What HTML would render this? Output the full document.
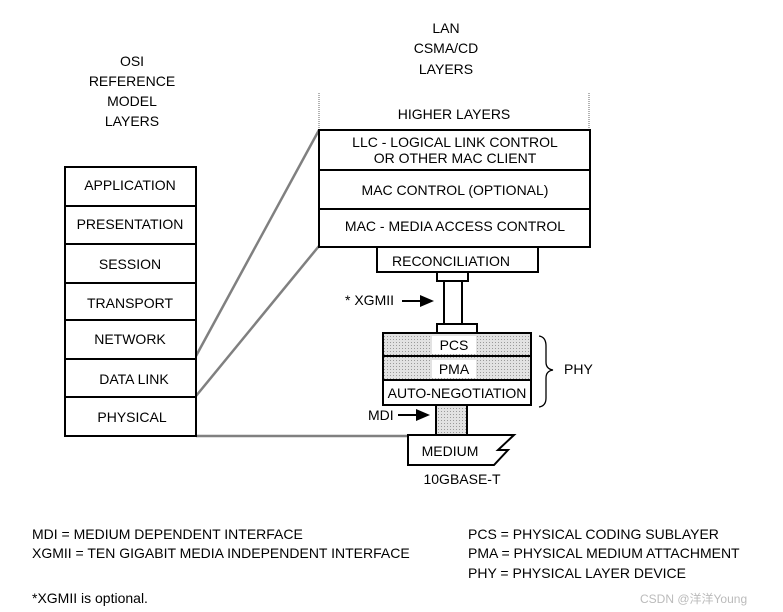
<!DOCTYPE html>
<html><head><meta charset="utf-8"><style>
html,body{margin:0;padding:0;background:#fff}
svg{display:block}
text{font-family:"Liberation Sans",Arial,sans-serif;font-size:14px;fill:#000}
</style></head><body>
<svg width="783" height="612" viewBox="0 0 783 612" xmlns="http://www.w3.org/2000/svg">
<defs>
<pattern id="h" width="3" height="3" patternUnits="userSpaceOnUse">
<rect width="3" height="3" fill="#e2e2e2"/><rect width="1" height="1" fill="#9a9a9a"/>
</pattern>
</defs>
<!-- headers -->
<g text-anchor="middle">
<text x="132" y="66">OSI</text>
<text x="132" y="86">REFERENCE</text>
<text x="132" y="106">MODEL</text>
<text x="132" y="126">LAYERS</text>
<text x="446" y="33">LAN</text>
<text x="446" y="53">CSMA/CD</text>
<text x="446" y="74">LAYERS</text>
</g>
<!-- connecting lines -->
<g stroke="#808080" stroke-width="2.5" fill="none">
<line x1="196" y1="356" x2="319" y2="130"/>
<line x1="196" y1="396" x2="319" y2="246"/>
<line x1="196" y1="436" x2="410" y2="436"/>
</g>
<!-- OSI stack -->
<g fill="#fff" stroke="#000" stroke-width="2">
<rect x="65" y="167" width="131" height="269"/>
<line x1="65" y1="206" x2="196" y2="206"/>
<line x1="65" y1="244" x2="196" y2="244"/>
<line x1="65" y1="283" x2="196" y2="283"/>
<line x1="65" y1="320" x2="196" y2="320"/>
<line x1="65" y1="359" x2="196" y2="359"/>
<line x1="65" y1="397" x2="196" y2="397"/>
</g>
<g text-anchor="middle">
<text x="130" y="190">APPLICATION</text>
<text x="130" y="229">PRESENTATION</text>
<text x="130" y="269">SESSION</text>
<text x="130" y="308">TRANSPORT</text>
<text x="130" y="344">NETWORK</text>
<text x="134" y="384">DATA LINK</text>
<text x="132" y="422">PHYSICAL</text>
</g>
<!-- higher layers -->
<g stroke="#999" stroke-width="1.5" stroke-dasharray="1,1">
<line x1="319" y1="93" x2="319" y2="130"/>
<line x1="589" y1="93" x2="589" y2="130"/>
</g>
<text x="454" y="119" text-anchor="middle">HIGHER LAYERS</text>
<!-- LAN stack -->
<g fill="#fff" stroke="#000" stroke-width="2">
<rect x="319" y="130" width="271" height="117"/>
<line x1="319" y1="170" x2="590" y2="170"/>
<line x1="319" y1="209" x2="590" y2="209"/>
<rect x="377" y="247" width="161" height="25"/>
<rect x="437" y="272" width="31" height="9"/>
<rect x="444" y="281" width="18" height="43"/>
<rect x="437" y="324" width="40" height="9"/>
</g>
<g text-anchor="middle">
<text x="455" y="147">LLC - LOGICAL LINK CONTROL</text>
<text x="455" y="163">OR OTHER MAC CLIENT</text>
<text x="455" y="195">MAC CONTROL (OPTIONAL)</text>
<text x="455" y="231">MAC - MEDIA ACCESS CONTROL</text>
<text x="451" y="266">RECONCILIATION</text>
</g>
<!-- XGMII arrow -->
<text x="345" y="305">* XGMII</text>
<line x1="402" y1="301" x2="422" y2="301" stroke="#000" stroke-width="2"/>
<polygon points="420,295 434,301 420,307" fill="#000"/>
<!-- PHY -->
<rect x="383" y="333" width="148" height="47" fill="url(#h)" stroke="#000" stroke-width="2"/>
<line x1="383" y1="356" x2="531" y2="356" stroke="#000" stroke-width="2"/>
<rect x="432" y="336" width="44" height="18" fill="#fff"/>
<rect x="432" y="360" width="44" height="18" fill="#fff"/>
<rect x="383" y="380" width="148" height="25" fill="#fff" stroke="#000" stroke-width="2"/>
<g text-anchor="middle">
<text x="454" y="350">PCS</text>
<text x="454" y="374">PMA</text>
<text x="457" y="398">AUTO-NEGOTIATION</text>
</g>
<!-- brace -->
<path d="M539,336 Q546,337 546,346 L546,362 Q546,369 553,370 Q546,371 546,378 L546,398 Q546,406 539,407" fill="none" stroke="#000" stroke-width="1.3"/>
<text x="564" y="374">PHY</text>
<!-- MDI -->
<rect x="436" y="405" width="31" height="30" fill="url(#h)" stroke="#000" stroke-width="2"/>
<text x="368" y="420">MDI</text>
<line x1="398" y1="415" x2="418" y2="415" stroke="#000" stroke-width="2"/>
<polygon points="416,409 430,415 416,421" fill="#000"/>
<!-- medium -->
<path d="M408,435 L514,435 L498,450 L508,450 L494,465 L408,465 Z" fill="#fff" stroke="#000" stroke-width="2"/>
<text x="450" y="456" text-anchor="middle">MEDIUM</text>
<text x="462" y="484" text-anchor="middle">10GBASE-T</text>
<!-- legend -->
<text x="32" y="539">MDI = MEDIUM DEPENDENT INTERFACE</text>
<text x="32" y="558">XGMII = TEN GIGABIT MEDIA INDEPENDENT INTERFACE</text>
<text x="468" y="539">PCS = PHYSICAL CODING SUBLAYER</text>
<text x="468" y="558">PMA = PHYSICAL MEDIUM ATTACHMENT</text>
<text x="468" y="578">PHY = PHYSICAL LAYER DEVICE</text>
<text x="32" y="603">*XGMII is optional.</text>
<text x="640" y="603" style="font-size:12px;fill:#bbb;font-family:'Liberation Sans','Noto Sans CJK SC',sans-serif">CSDN @洋洋Young</text>
</svg>
</body></html>
